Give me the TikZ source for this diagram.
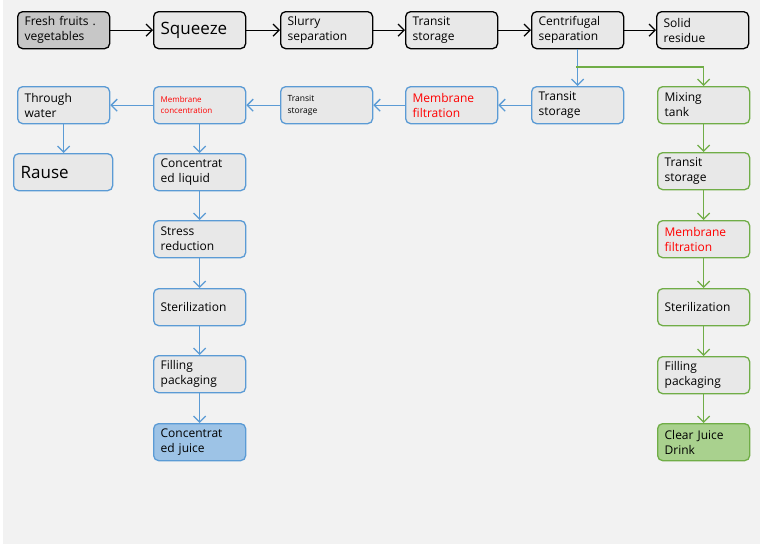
\documentclass[tikz,border=0pt]{standalone}
\usepackage{fontspec}
\setmainfont{Open Sans}
\usetikzlibrary{arrows.meta}
\definecolor{bgc}{HTML}{F2F2F2}
\definecolor{boxf}{HTML}{E8E8E8}
\definecolor{bl}{HTML}{5B9BD5}
\definecolor{gr}{HTML}{70AD47}
\definecolor{blf}{HTML}{9DC3E6}
\definecolor{grf}{HTML}{A9D18E}
\begin{document}
\begin{tikzpicture}[x=1pt,y=-1pt,
  bx/.style={draw,rounded corners=5pt,fill=boxf,line width=1.3pt,minimum width=92pt,minimum height=37pt,
     align=left,text width=78pt,inner xsep=7pt,inner ysep=4pt,font=\fontsize{12}{15}\selectfont,anchor=north west},
  kb/.style={bx,draw=black},
  bb/.style={bx,draw=bl},
  gb/.style={bx,draw=gr},
  tip/.style={-{Straight Barb[length=6pt,width=12pt]}},
  ka/.style={draw=black,line width=1.3pt,tip},
  ba/.style={draw=bl,line width=1.3pt,tip},
  ga/.style={draw=gr,line width=1.3pt,tip}]
\fill[bgc] (0,0) rectangle (760,544);
\fill[white] (0,0) rectangle (3,544);
\node[kb,fill=black!22] (a1) at (17,11) {Fresh fruits .\\vegetables};
\node[kb,font=\fontsize{17}{19}\selectfont] (a2) at (153,11) {Squeeze};
\node[kb] (a3) at (280,11) {Slurry\\separation};
\node[kb] (a4) at (405,11) {Transit\\storage};
\node[kb] (a5) at (531,11) {Centrifugal\\separation};
\node[kb] (a6) at (656,11) {Solid\\residue};
\node[bb] (b1) at (17,86) {Through\\water};
\node[bb,text=red,font=\fontsize{8}{11}\selectfont] (b2) at (153,86) {Membrane\\concentration};
\node[bb,font=\fontsize{8.5}{12}\selectfont] (b3) at (280,86) {Transit\\storage};
\node[bb,text=red] (b4) at (405,86) {Membrane\\filtration};
\node[bb] (b5) at (531,86) {Transit\\storage};
\node[gb] (g1) at (657,86) {Mixing\\tank};
\node[bb,minimum width=99pt,text width=85pt,font=\fontsize{17}{19}\selectfont] (r) at (13,153) {Rause};
\node[bb] (c1) at (153,153) {Concentrat\\ed liquid};
\node[bb] (c2) at (153,220) {Stress\\reduction};
\node[bb] (c3) at (153,288) {Sterilization};
\node[bb] (c4) at (153,355) {Filling\\packaging};
\node[bb,fill=blf] (c5) at (153,423) {Concentrat\\ed juice};
\node[gb] (g2) at (657,152) {Transit\\storage};
\node[gb,text=red] (g3) at (657,220) {Membrane\\filtration};
\node[gb] (g4) at (657,288) {Sterilization};
\node[gb] (g5) at (657,356) {Filling\\packaging};
\node[gb,fill=grf] (g6) at (657,423) {Clear Juice\\Drink};
\draw[ka] (a1) -- (a2);
\draw[ka] (a2) -- (a3);
\draw[ka] (a3) -- (a4);
\draw[ka] (a4) -- (a5);
\draw[ka] (a5) -- (a6);
\draw[ba] (a5.south) -- (b5.north);
\coordinate (j) at (576,67);
\draw[ga] (j) -| (g1.north);
\draw[ba] (b5) -- (b4);
\draw[ba] (b4) -- (b3);
\draw[ba] (b3) -- (b2);
\draw[ba] (b2) -- (b1);
\draw[ba] (b1.south) -- (b1.south|-r.north);
\draw[ba] (b2) -- (c1);
\draw[ba] (c1) -- (c2);
\draw[ba] (c2) -- (c3);
\draw[ba] (c3) -- (c4);
\draw[ba] (c4) -- (c5);
\draw[ga] (g1) -- (g2);
\draw[ga] (g2) -- (g3);
\draw[ga] (g3) -- (g4);
\draw[ga] (g4) -- (g5);
\draw[ga] (g5) -- (g6);
\end{tikzpicture}
\end{document}
